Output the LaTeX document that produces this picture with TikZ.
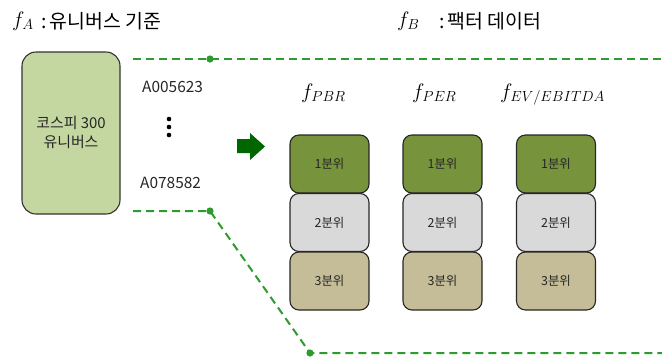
\documentclass[tikz,border=0pt]{standalone}
\usepackage{fix-cm}
\usepackage{fontspec}
\setmainfont{Noto Sans CJK KR}
\definecolor{ugreen}{HTML}{C5D7A0}
\definecolor{qone}{HTML}{77933C}
\definecolor{qtwo}{HTML}{D9D9D9}
\definecolor{qthree}{HTML}{C4BD97}
\definecolor{lg}{HTML}{2E9B2E}
\definecolor{ag}{HTML}{006600}
\begin{document}
\begin{tikzpicture}[x=1bp,y=-1bp,
  lbl/.style={font=\fontsize{12.5}{14}\selectfont, text=black!85},
  qbox/.style={draw=black!85, line width=1.1bp, rounded corners=9bp, minimum width=79bp, minimum height=58bp, inner sep=0pt, lbl},
  gline/.style={draw=lg, line width=2bp, dash pattern=on 8bp off 5bp},
  mathtxt/.style={anchor=base west, inner sep=0pt, font=\fontsize{21}{24}\selectfont},
  ttl/.style={anchor=base west, inner sep=0pt, font=\fontsize{19.5}{22}\selectfont},
  code/.style={anchor=base west, inner sep=0pt, font=\fontsize{15.5}{18}\selectfont, text=black!85},
]
\useasboundingbox (0,0) rectangle (662,360);
% titles
\node[mathtxt] (fa) at (12,26) {$f_A$};
\node[ttl] (ta) at (41,28) {:\,유니버스 기준};
\node[mathtxt] (fb) at (397,26) {$f_B$};
\node[ttl] (tb) at (439,28) {:\,팩터 데이터};
% universe box
\node[draw=black!80, line width=1.1bp, fill=ugreen, rounded corners=14bp, minimum width=98bp, minimum height=162bp, inner sep=0pt] (u) at (71,133) {};
\node[align=center, font=\fontsize{15}{19}\selectfont, text=black!85, inner sep=0pt] (ut) at (71,132) {코스피 300\\유니버스};
% codes
\node[code] (a1) at (142,92) {A005623};
\node[code] (a2) at (140,188) {A078582};
\fill[black] (169,119) circle (2.3bp) (169,127) circle (2.3bp) (169,135) circle (2.3bp);
% dashed lines
\coordinate (s1) at (133,59);
\coordinate (d1) at (210,59);
\coordinate (e1) at (662,59);
\coordinate (s2) at (133,211);
\coordinate (d2) at (210,211);
\coordinate (d3) at (310,353);
\coordinate (e2) at (662,353);
\draw[gline] (s1) -- (d1) -- (e1);
\draw[gline] (s2) -- (d2) -- (d3) -- (e2);
\fill[lg] (d1) circle (3.6bp) (d2) circle (3.6bp) (d3) circle (3.6bp);
% arrow
\fill[ag] (237,139) -- (250,139) -- (250,133) -- (265,146.5) -- (250,160) -- (250,153) -- (237,153) -- cycle;
% headers
\node[mathtxt] (h1) at (301,98) {$f_{PBR}$};
\node[mathtxt] (h2) at (412,98) {$f_{PER}$};
\node[mathtxt] (h3) at (500,98) {$f_{EV/EBITDA}$};
% quantile boxes
\foreach \c/\x in {a/329.5,b/442.5,c/556}{
  \node[qbox, fill=qone] (\c1) at (\x,164) {1분위};
  \node[qbox, fill=qtwo] (\c2) at (\x,222.5) {2분위};
  \node[qbox, fill=qthree] (\c3) at (\x,281) {3분위};
}
\end{tikzpicture}
\end{document}
